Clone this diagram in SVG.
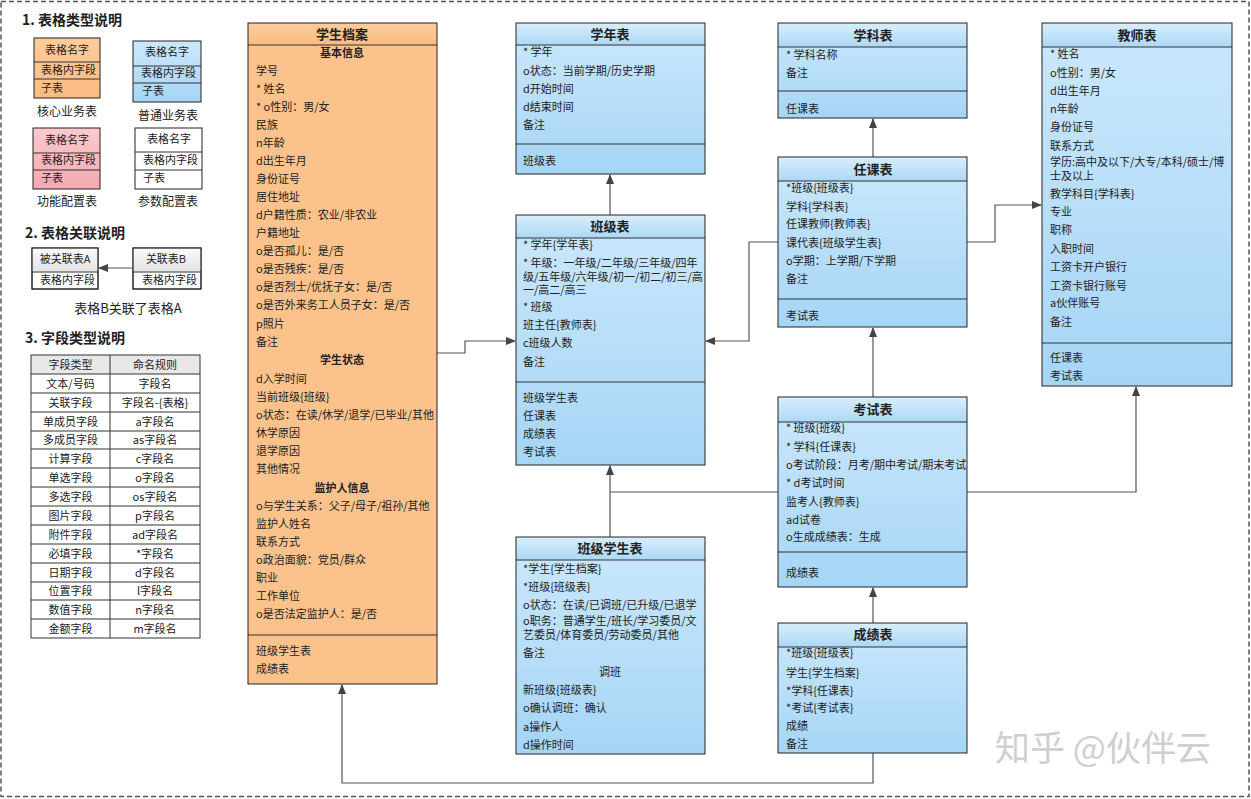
<svg xmlns="http://www.w3.org/2000/svg" width="1251" height="799" viewBox="0 0 1251 799">
<defs>
<linearGradient id="bh" x1="0" y1="0" x2="0" y2="1"><stop offset="0" stop-color="#d8eefc"/><stop offset="1" stop-color="#acd8f6"/></linearGradient>
<linearGradient id="bb" x1="0" y1="0" x2="0" y2="1"><stop offset="0" stop-color="#cbe8fc"/><stop offset="1" stop-color="#a6d5f6"/></linearGradient>
<linearGradient id="oh" x1="0" y1="0" x2="0" y2="1"><stop offset="0" stop-color="#fdcd9c"/><stop offset="1" stop-color="#f9bb80"/></linearGradient>
<linearGradient id="pk" x1="0" y1="0" x2="0" y2="1"><stop offset="0" stop-color="#fbc9ce"/><stop offset="1" stop-color="#f4a9b1"/></linearGradient>
<linearGradient id="gh" x1="0" y1="0" x2="0" y2="1"><stop offset="0" stop-color="#fafafa"/><stop offset="1" stop-color="#e4e4e4"/></linearGradient>
<marker id="ar" markerWidth="10" markerHeight="8" refX="9" refY="4" orient="auto" markerUnits="userSpaceOnUse"><path d="M0,0 L10,4 L0,8 Z" fill="#444"/></marker>
<style>
text{font-family:"Noto Sans CJK SC","Microsoft YaHei",sans-serif;fill:#222}
.t{font-size:11px}
.c{font-size:11px;text-anchor:middle}
.b{font-size:11px;font-weight:bold;text-anchor:middle}
.h{font-size:13px;font-weight:bold;text-anchor:middle}
.s{font-size:14px;font-weight:bold}
.l{font-size:12px;text-anchor:middle}
.bx{stroke:#222;stroke-width:1}
.dv{stroke:#333;stroke-width:1}
.cn{fill:none;stroke:#555;stroke-width:1.2}
</style>
</defs>
<rect x="1" y="1.5" width="1248" height="795" fill="#fff" stroke="#555" stroke-width="1.5" stroke-dasharray="5,3"/>

<g id="legend">
<text class="s" x="22" y="25">1. 表格类型说明</text>
<rect class="bx" x="34" y="38" width="66" height="60" fill="url(#oh)"/>
<line class="dv" x1="34" y1="62" x2="100" y2="62"/><line class="dv" x1="34" y1="79" x2="100" y2="79"/>
<text class="c" x="67" y="54">表格名字</text><text class="t" x="41" y="74">表格内字段</text><text class="t" x="41" y="92">子表</text>
<text class="l" x="67" y="116">核心业务表</text>
<rect class="bx" x="133" y="41" width="68" height="61" fill="url(#bb)"/>
<line class="dv" x1="133" y1="66" x2="201" y2="66"/><line class="dv" x1="133" y1="83" x2="201" y2="83"/>
<text class="c" x="167" y="56">表格名字</text><text class="t" x="141" y="77">表格内字段</text><text class="t" x="142" y="95">子表</text>
<text class="l" x="168" y="120">普通业务表</text>
<rect class="bx" x="33" y="128" width="67" height="61" fill="url(#pk)"/>
<line class="dv" x1="33" y1="153" x2="100" y2="153"/><line class="dv" x1="33" y1="170" x2="100" y2="170"/>
<text class="c" x="67" y="144">表格名字</text><text class="t" x="41" y="164">表格内字段</text><text class="t" x="41" y="182">子表</text>
<text class="l" x="67" y="206">功能配置表</text>
<rect class="bx" x="135" y="128" width="67" height="61" fill="#fff"/>
<line class="dv" x1="135" y1="152" x2="202" y2="152"/><line class="dv" x1="135" y1="170" x2="202" y2="170"/>
<text class="c" x="169" y="143">表格名字</text><text class="t" x="143" y="164">表格内字段</text><text class="t" x="143" y="182">子表</text>
<text class="l" x="168" y="206">参数配置表</text>

<text class="s" x="25" y="238">2. 表格关联说明</text>
<rect class="bx" x="32" y="248" width="66" height="41" fill="#fff"/>
<rect x="32.5" y="248.5" width="65" height="23" fill="url(#gh)"/>
<line class="dv" x1="32" y1="272" x2="98" y2="272"/>
<rect x="32" y="248" width="66" height="41" fill="none" stroke="#222"/>
<text class="c" x="65" y="263">被关联表A</text><text class="t" x="40" y="284">表格内字段</text>
<rect class="bx" x="133" y="248" width="68" height="41" fill="#fff"/>
<rect x="133.5" y="248.5" width="67" height="23" fill="url(#gh)"/>
<line class="dv" x1="133" y1="272" x2="201" y2="272"/>
<rect x="133" y="248" width="68" height="41" fill="none" stroke="#222"/>
<text class="c" x="166" y="263">关联表B</text><text class="t" x="142" y="284">表格内字段</text>
<path class="cn" d="M133,268 H99" marker-end="url(#ar)"/>
<text class="l" x="128" y="313" style="font-size:13px">表格B关联了表格A</text>

<text class="s" x="25" y="343">3. 字段类型说明</text>
<rect x="31" y="355" width="169" height="19" fill="#e8e8e8"/>
<g stroke="#333" stroke-width="1" fill="none">
<rect x="31" y="355" width="169" height="283"/>
<line x1="110" y1="355" x2="110" y2="638"/>
<line x1="31" y1="374" x2="200" y2="374"/><line x1="31" y1="393" x2="200" y2="393"/><line x1="31" y1="412" x2="200" y2="412"/><line x1="31" y1="431" x2="200" y2="431"/><line x1="31" y1="449" x2="200" y2="449"/><line x1="31" y1="468" x2="200" y2="468"/><line x1="31" y1="487" x2="200" y2="487"/><line x1="31" y1="506" x2="200" y2="506"/><line x1="31" y1="525" x2="200" y2="525"/><line x1="31" y1="544" x2="200" y2="544"/><line x1="31" y1="563" x2="200" y2="563"/><line x1="31" y1="582" x2="200" y2="582"/><line x1="31" y1="600" x2="200" y2="600"/><line x1="31" y1="619" x2="200" y2="619"/>
</g>
<g class="c">
<text class="c" x="70.5" y="369">字段类型</text><text class="c" x="155" y="369">命名规则</text>
<text class="c" x="70.5" y="388">文本/号码</text><text class="c" x="155" y="388">字段名</text>
<text class="c" x="70.5" y="407">关联字段</text><text class="c" x="155" y="407">字段名-{表格}</text>
<text class="c" x="70.5" y="426">单成员字段</text><text class="c" x="155" y="426">a字段名</text>
<text class="c" x="70.5" y="444">多成员字段</text><text class="c" x="155" y="444">as字段名</text>
<text class="c" x="70.5" y="463">计算字段</text><text class="c" x="155" y="463">c字段名</text>
<text class="c" x="70.5" y="482">单选字段</text><text class="c" x="155" y="482">o字段名</text>
<text class="c" x="70.5" y="501">多选字段</text><text class="c" x="155" y="501">os字段名</text>
<text class="c" x="70.5" y="520">图片字段</text><text class="c" x="155" y="520">p字段名</text>
<text class="c" x="70.5" y="539">附件字段</text><text class="c" x="155" y="539">ad字段名</text>
<text class="c" x="70.5" y="558">必填字段</text><text class="c" x="155" y="558">*字段名</text>
<text class="c" x="70.5" y="577">日期字段</text><text class="c" x="155" y="577">d字段名</text>
<text class="c" x="70.5" y="595">位置字段</text><text class="c" x="155" y="595">l字段名</text>
<text class="c" x="70.5" y="614">数值字段</text><text class="c" x="155" y="614">n字段名</text>
<text class="c" x="70.5" y="633">金额字段</text><text class="c" x="155" y="633">m字段名</text>
</g>
</g>

<g id="connectors">
<path class="cn" d="M437,353 H465 V341 H515" marker-end="url(#ar)"/>
<path class="cn" d="M778,242 H749 V341 H706" marker-end="url(#ar)"/>
<path class="cn" d="M967,242 H995 V205 H1041" marker-end="url(#ar)"/>
<path class="cn" d="M610,215 V175" marker-end="url(#ar)"/>
<path class="cn" d="M873,157 V119" marker-end="url(#ar)"/>
<path class="cn" d="M873,397 V328" marker-end="url(#ar)"/>
<path class="cn" d="M873,623 V588" marker-end="url(#ar)"/>
<path class="cn" d="M610,537 V466" marker-end="url(#ar)"/>
<path class="cn" d="M778,492 H610"/>
<path class="cn" d="M967,492 H1136 V387" marker-end="url(#ar)"/>
<path class="cn" d="M873,753 V783 H342 V685" marker-end="url(#ar)"/>
</g>

<g id="student">
<rect x="248" y="23" width="189" height="661" fill="#fcc28c"/>
<rect x="248" y="23" width="189" height="22" fill="url(#oh)"/>
<line class="dv" x1="248" y1="45" x2="437" y2="45"/>
<line class="dv" x1="248" y1="635" x2="437" y2="635"/>
<rect x="248" y="23" width="189" height="661" fill="none" stroke="#222"/>
<text class="h" x="342" y="39">学生档案</text>
<text class="b" x="342" y="57">基本信息</text>
<text class="t" x="256" y="75">学号</text>
<text class="t" x="256" y="93">* 姓名</text>
<text class="t" x="256" y="111">* o性别：男/女</text>
<text class="t" x="256" y="129">民族</text>
<text class="t" x="256" y="147">n年龄</text>
<text class="t" x="256" y="165">d出生年月</text>
<text class="t" x="256" y="183">身份证号</text>
<text class="t" x="256" y="201">居住地址</text>
<text class="t" x="256" y="219">d户籍性质：农业/非农业</text>
<text class="t" x="256" y="237">户籍地址</text>
<text class="t" x="256" y="255">o是否孤儿：是/否</text>
<text class="t" x="256" y="273">o是否残疾：是/否</text>
<text class="t" x="256" y="291">o是否烈士/优抚子女：是/否</text>
<text class="t" x="256" y="309">o是否外来务工人员子女：是/否</text>
<text class="t" x="256" y="328">p照片</text>
<text class="t" x="256" y="346">备注</text>
<text class="b" x="342" y="364">学生状态</text>
<text class="t" x="256" y="383">d入学时间</text>
<text class="t" x="256" y="401">当前班级{班级}</text>
<text class="t" x="256" y="419">o状态：在读/休学/退学/已毕业/其他</text>
<text class="t" x="256" y="437">休学原因</text>
<text class="t" x="256" y="455">退学原因</text>
<text class="t" x="256" y="473">其他情况</text>
<text class="b" x="342" y="492">监护人信息</text>
<text class="t" x="256" y="510">o与学生关系：父子/母子/祖孙/其他</text>
<text class="t" x="256" y="528">监护人姓名</text>
<text class="t" x="256" y="546">联系方式</text>
<text class="t" x="256" y="564">o政治面貌：党员/群众</text>
<text class="t" x="256" y="582">职业</text>
<text class="t" x="256" y="600">工作单位</text>
<text class="t" x="256" y="618">o是否法定监护人：是/否</text>
<text class="t" x="256" y="655">班级学生表</text>
<text class="t" x="256" y="673">成绩表</text>
</g>

<g id="xuenian">
<rect x="516" y="23" width="189" height="151" fill="url(#bb)"/>
<rect x="516" y="23" width="189" height="22" fill="url(#bh)"/>
<line class="dv" x1="516" y1="45" x2="705" y2="45"/>
<line class="dv" x1="516" y1="144" x2="705" y2="144"/>
<rect x="516" y="23" width="189" height="151" fill="none" stroke="#222"/>
<text class="h" x="610" y="39">学年表</text>
<text class="t" x="523" y="56">* 学年</text>
<text class="t" x="523" y="75">o状态：当前学期/历史学期</text>
<text class="t" x="523" y="93">d开始时间</text>
<text class="t" x="523" y="111">d结束时间</text>
<text class="t" x="523" y="129">备注</text>
<text class="t" x="523" y="165">班级表</text>
</g>

<g id="banji">
<rect x="516" y="215" width="189" height="250" fill="url(#bb)"/>
<rect x="516" y="215" width="189" height="23" fill="url(#bh)"/>
<line class="dv" x1="516" y1="238" x2="705" y2="238"/>
<line class="dv" x1="516" y1="382" x2="705" y2="382"/>
<rect x="516" y="215" width="189" height="250" fill="none" stroke="#222"/>
<text class="h" x="610" y="231">班级表</text>
<text class="t" x="523" y="249">* 学年{学年表}</text>
<text class="t" x="523" y="267">* 年级：一年级/二年级/三年级/四年<tspan x="523" dy="13.5">级/五年级/六年级/初一/初二/初三/高</tspan><tspan x="523" dy="13.5">一/高二/高三</tspan></text>
<text class="t" x="523" y="311">* 班级</text>
<text class="t" x="523" y="329">班主任{教师表}</text>
<text class="t" x="523" y="347">c班级人数</text>
<text class="t" x="523" y="366">备注</text>
<text class="t" x="523" y="402">班级学生表</text>
<text class="t" x="523" y="420">任课表</text>
<text class="t" x="523" y="438">成绩表</text>
<text class="t" x="523" y="456">考试表</text>
</g>

<g id="banjixuesheng">
<rect x="516" y="537" width="189" height="217" fill="url(#bb)"/>
<rect x="516" y="537" width="189" height="23" fill="url(#bh)"/>
<line class="dv" x1="516" y1="560" x2="705" y2="560"/>
<rect x="516" y="537" width="189" height="217" fill="none" stroke="#222"/>
<text class="h" x="610" y="553">班级学生表</text>
<text class="t" x="523" y="573">*学生{学生档案}</text>
<text class="t" x="523" y="591">*班级{班级表}</text>
<text class="t" x="523" y="609">o状态：在读/已调班/已升级/已退学</text>
<text class="t" x="523" y="625">o职务：普通学生/班长/学习委员/文<tspan x="523" dy="14">艺委员/体育委员/劳动委员/其他</tspan></text>
<text class="t" x="523" y="657">备注</text>
<text class="c" x="610" y="676">调班</text>
<text class="t" x="523" y="694">新班级{班级表}</text>
<text class="t" x="523" y="712">o确认调班：确认</text>
<text class="t" x="523" y="731">a操作人</text>
<text class="t" x="523" y="749">d操作时间</text>
</g>

<g id="xueke">
<rect x="778" y="23" width="189" height="95" fill="url(#bb)"/>
<rect x="778" y="23" width="189" height="24" fill="url(#bh)"/>
<line class="dv" x1="778" y1="47" x2="967" y2="47"/>
<line class="dv" x1="778" y1="91" x2="967" y2="91"/>
<rect x="778" y="23" width="189" height="95" fill="none" stroke="#222"/>
<text class="h" x="873" y="40">学科表</text>
<text class="t" x="786" y="59">* 学科名称</text>
<text class="t" x="786" y="77">备注</text>
<text class="t" x="786" y="113">任课表</text>
</g>

<g id="renke">
<rect x="778" y="157" width="189" height="170" fill="url(#bb)"/>
<rect x="778" y="157" width="189" height="24" fill="url(#bh)"/>
<line class="dv" x1="778" y1="181" x2="967" y2="181"/>
<line class="dv" x1="778" y1="299" x2="967" y2="299"/>
<rect x="778" y="157" width="189" height="170" fill="none" stroke="#222"/>
<text class="h" x="873" y="174">任课表</text>
<text class="t" x="786" y="192">*班级{班级表}</text>
<text class="t" x="786" y="211">学科{学科表}</text>
<text class="t" x="786" y="228">任课教师{教师表}</text>
<text class="t" x="786" y="247">课代表{班级学生表}</text>
<text class="t" x="786" y="265">o学期：上学期/下学期</text>
<text class="t" x="786" y="283">备注</text>
<text class="t" x="786" y="320">考试表</text>
</g>

<g id="kaoshi">
<rect x="778" y="397" width="189" height="190" fill="url(#bb)"/>
<rect x="778" y="397" width="189" height="25" fill="url(#bh)"/>
<line class="dv" x1="778" y1="422" x2="967" y2="422"/>
<line class="dv" x1="778" y1="552" x2="967" y2="552"/>
<rect x="778" y="397" width="189" height="190" fill="none" stroke="#222"/>
<text class="h" x="873" y="414">考试表</text>
<text class="t" x="786" y="432">* 班级{班级}</text>
<text class="t" x="786" y="451">* 学科{任课表}</text>
<text class="t" x="786" y="469">o考试阶段：月考/期中考试/期末考试</text>
<text class="t" x="786" y="487">* d考试时间</text>
<text class="t" x="786" y="506">监考人{教师表}</text>
<text class="t" x="786" y="524">ad试卷</text>
<text class="t" x="786" y="541">o生成成绩表：生成</text>
<text class="t" x="786" y="577">成绩表</text>
</g>

<g id="chengji">
<rect x="778" y="623" width="189" height="130" fill="url(#bb)"/>
<rect x="778" y="623" width="189" height="24" fill="url(#bh)"/>
<line class="dv" x1="778" y1="647" x2="967" y2="647"/>
<rect x="778" y="623" width="189" height="130" fill="none" stroke="#222"/>
<text class="h" x="873" y="639">成绩表</text>
<text class="t" x="786" y="657">*班级{班级表}</text>
<text class="t" x="786" y="677">学生{学生档案}</text>
<text class="t" x="786" y="695">*学科{任课表}</text>
<text class="t" x="786" y="712">*考试{考试表}</text>
<text class="t" x="786" y="730">成绩</text>
<text class="t" x="786" y="748">备注</text>
</g>

<g id="jiaoshi">
<rect x="1042" y="23" width="190" height="363" fill="url(#bb)"/>
<rect x="1042" y="23" width="190" height="24" fill="url(#bh)"/>
<line class="dv" x1="1042" y1="47" x2="1232" y2="47"/>
<line class="dv" x1="1042" y1="343" x2="1232" y2="343"/>
<rect x="1042" y="23" width="190" height="363" fill="none" stroke="#222"/>
<text class="h" x="1137" y="40">教师表</text>
<text class="t" x="1050" y="58">* 姓名</text>
<text class="t" x="1050" y="77">o性别：男/女</text>
<text class="t" x="1050" y="95">d出生年月</text>
<text class="t" x="1050" y="113">n年龄</text>
<text class="t" x="1050" y="131">身份证号</text>
<text class="t" x="1050" y="150">联系方式</text>
<text class="t" x="1050" y="166">学历:高中及以下/大专/本科/硕士/博<tspan x="1050" dy="14">士及以上</tspan></text>
<text class="t" x="1050" y="198">教学科目{学科表}</text>
<text class="t" x="1050" y="216">专业</text>
<text class="t" x="1050" y="234">职称</text>
<text class="t" x="1050" y="253">入职时间</text>
<text class="t" x="1050" y="271">工资卡开户银行</text>
<text class="t" x="1050" y="290">工资卡银行账号</text>
<text class="t" x="1050" y="307">a伙伴账号</text>
<text class="t" x="1050" y="326">备注</text>
<text class="t" x="1050" y="362">任课表</text>
<text class="t" x="1050" y="380">考试表</text>
</g>

<text x="1103" y="761" style="font-size:35px;text-anchor:middle;fill:#cfcfcf">知乎 @伙伴云</text>
</svg>
